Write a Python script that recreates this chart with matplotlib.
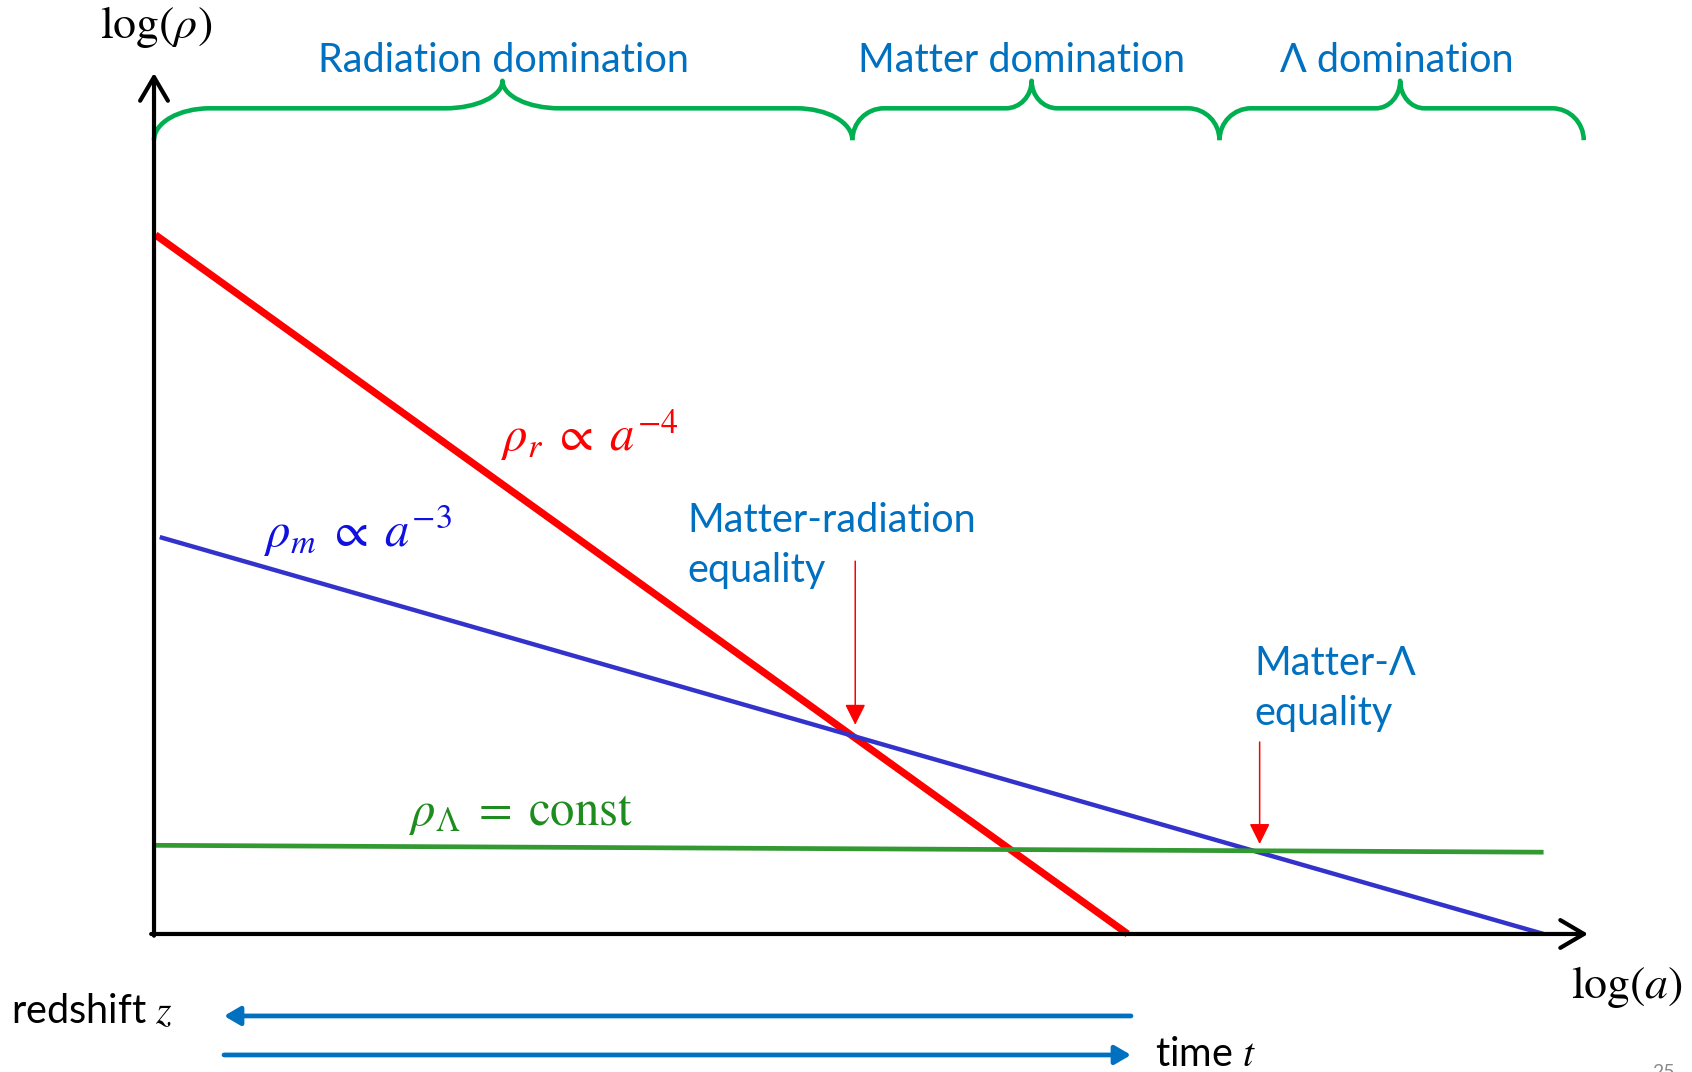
import matplotlib
matplotlib.use("Agg")
import matplotlib.pyplot as plt
from matplotlib.path import Path
from matplotlib.patches import PathPatch

plt.rcParams['mathtext.fontset'] = 'stix'
plt.rcParams['font.family'] = ['Lato', 'DejaVu Sans']

# schematic densities, log(rho) against log(a), arbitrary units
log_a_r = [0.01, 6.79]
log_rho_r = [8.12, 0.0]
log_a_m = [0.04, 9.69]
log_rho_m = [4.61, 0.0]
log_a_L = [0.0, 9.69]
log_rho_L = [1.03, 0.95]

# eras along the top
era_edges = [0.0, 4.87, 7.43, 9.97]
era_tips = [2.43, 6.12, 8.69]
era_label_x = [2.44, 6.05, 8.67]
era_names = ['Radiation domination', 'Matter domination', 'Λ domination']
era_end_r = [0.39, 0.22, 0.22]
era_tip_r = [0.40, 0.18, 0.17]

# equality markers
eq_x = [4.89, 7.71]
eq_top = [4.33, 2.23]
eq_bottom = [2.43, 1.045]

RED = '#FF0000'
BLUE_LINE = '#3333CC'
GREEN_LINE = '#339933'
BRACE = '#00B050'
TXT = '#0070C0'
FS = 28.5

fig = plt.figure(figsize=(16.92, 10.72), dpi=100)
ax = fig.add_axes([0, 0, 1, 1])
ax.set_xlim(-1.074, 10.725)
ax.set_ylim(-1.603, 10.848)
ax.axis('off')

# axes with open arrow heads
axis_arrow = dict(arrowstyle='->,head_length=0.85,head_width=0.5', lw=3.0,
                  color='black', shrinkA=0, shrinkB=0, mutation_scale=20)
ax.annotate('', xy=(0, 10), xytext=(0, -0.02), arrowprops=axis_arrow)
ax.annotate('', xy=(10, 0), xytext=(-0.02, 0), arrowprops=axis_arrow)

ax.plot(log_a_r, log_rho_r, color=RED, lw=5.2, solid_capstyle='butt')
ax.plot(log_a_m, log_rho_m, color=BLUE_LINE, lw=3.2, solid_capstyle='butt')
ax.plot(log_a_L, log_rho_L, color=GREEN_LINE, lw=3.4, solid_capstyle='butt')


def brace(x0, x1, xm, r_end, r_tip, y_end=9.22, y_flat=9.59, y_tip=9.91):
    c = 0.5523
    h = y_flat - y_end
    t = y_tip - y_flat
    verts = [
        (x0, y_end),
        (x0, y_end + c * h), (x0 + r_end * (1 - c), y_flat), (x0 + r_end, y_flat),
        (xm - r_tip, y_flat),
        (xm - r_tip + c * r_tip, y_flat), (xm, y_tip - c * t), (xm, y_tip),
        (xm, y_tip - c * t), (xm + r_tip - c * r_tip, y_flat), (xm + r_tip, y_flat),
        (x1 - r_end, y_flat),
        (x1 - r_end * (1 - c), y_flat), (x1, y_end + c * h), (x1, y_end),
    ]
    codes = ([Path.MOVETO] + [Path.CURVE4] * 3 + [Path.LINETO] + [Path.CURVE4] * 6
             + [Path.LINETO] + [Path.CURVE4] * 3)
    ax.add_patch(PathPatch(Path(verts, codes), fill=False, edgecolor=BRACE,
                           lw=3.3, capstyle='butt', joinstyle='round'))


for i, name in enumerate(era_names):
    brace(era_edges[i], era_edges[i + 1], era_tips[i], era_end_r[i], era_tip_r[i])
    ax.text(era_label_x[i], 10.15, name, color=TXT, fontsize=FS,
            ha='center', va='center')

# equality arrows
for x, y0, y1 in zip(eq_x, eq_top, eq_bottom):
    ax.annotate('', xy=(x, y1), xytext=(x, y0),
                arrowprops=dict(arrowstyle='-|>,head_length=0.7,head_width=0.35',
                                lw=1.1, color=RED, shrinkA=0, shrinkB=0,
                                mutation_scale=18))

ax.text(3.72, 4.51, 'Matter-radiation\nequality', color=TXT, fontsize=FS,
        ha='left', va='center', linespacing=1.42)
ax.text(7.67, 2.85, 'Matter-Λ\nequality', color=TXT, fontsize=FS,
        ha='left', va='center', linespacing=1.42)

# curve labels
ax.text(2.42, 5.61, r'$\rho_r\;\propto\;a^{-4}$', color=RED, fontsize=35,
        ha='left', va='baseline')
ax.text(0.77, 4.49, r'$\rho_m\;\propto\;a^{-3}$', color='#1010E0', fontsize=35,
        ha='left', va='baseline')
ax.text(1.78, 1.27, r'$\rho_\Lambda\;=\;\mathrm{const}$', color='#1E8C1E', fontsize=35,
        ha='left', va='baseline')

# axis labels
ax.text(0.014, 10.53, r'$\log(\rho)$', fontsize=33, ha='center', va='center')
ax.text(10.66, -0.616, r'$\log(a)$', fontsize=33, ha='right', va='center')

# redshift / time direction arrows
time_arrow = dict(arrowstyle='-|>,head_length=0.6,head_width=0.35', lw=3.4,
                  color=TXT, shrinkA=0, shrinkB=0, mutation_scale=16)
ax.annotate('', xy=(0.488, -0.952), xytext=(6.813, -0.952), arrowprops=time_arrow)
ax.annotate('', xy=(6.813, -1.405), xytext=(0.488, -1.405), arrowprops=time_arrow)
ax.text(-0.997, -0.894, 'redshift $z$', fontsize=FS, ha='left', va='center')
ax.text(6.98, -1.405, 'time $t$', fontsize=FS, ha='left', va='center')

ax.text(10.45, -1.51, '25', color='#8C8C8C', fontsize=14, ha='left', va='top')

fig.savefig('out.png', dpi=100)
